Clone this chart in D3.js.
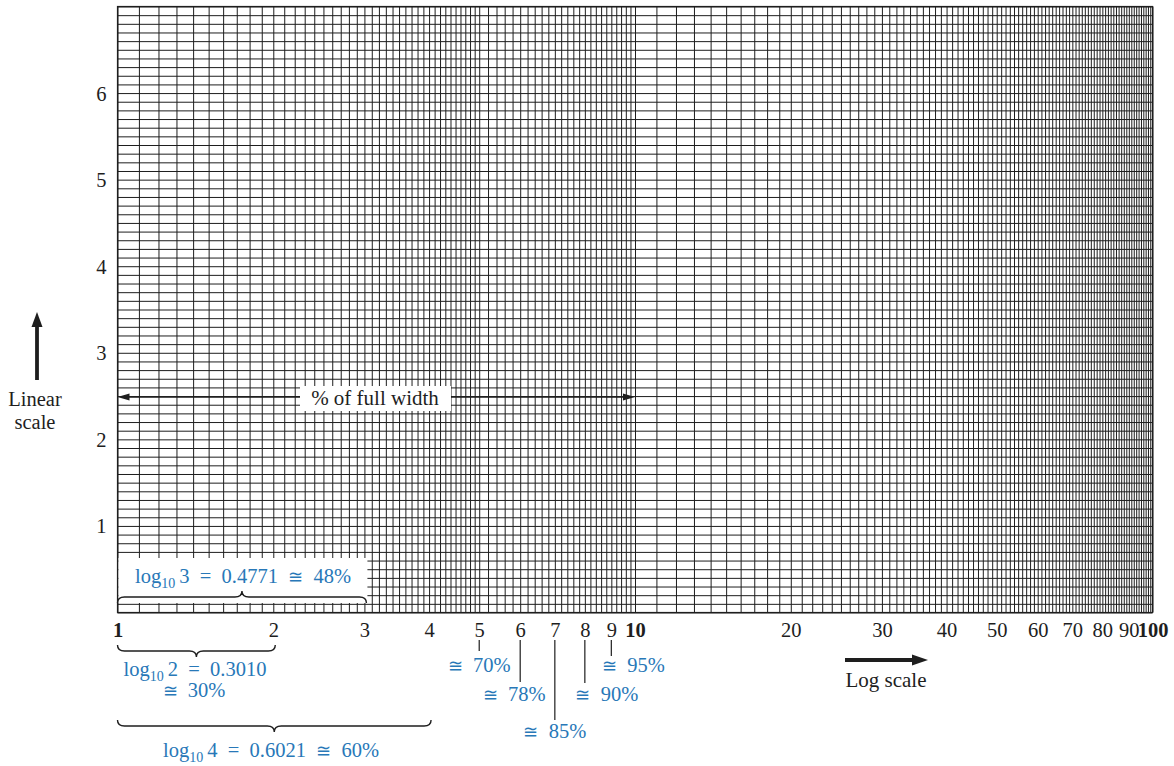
<!DOCTYPE html>
<html><head><meta charset="utf-8">
<script src="https://cdn.jsdelivr.net/npm/d3@7"></script>
<style>
body{margin:0;background:#fff;}
svg{display:block;font-family:"Liberation Serif","DejaVu Serif",serif;}
</style></head><body>
<svg id="chart" width="1174" height="766"></svg>
<script>
// ---------- data ----------
const xDomain = [1, 100];
const yDomain = [0, 7];
const xTickLabels = [1,2,3,4,5,6,7,8,9,10,20,30,40,50,60,70,80,90,100];
const boldXTicks = [1,10,100];
const yTickLabels = [1,2,3,4,5,6];
const gridBands = [[1,5,0.1],[5,10,0.2],[10,100,1]];
const yGridStep = 0.1;
const leaderValues = [5,6,7,8,9];
const leaderPercents = ["70%","78%","85%","90%","95%"];
const braceRanges = [[1,3],[1,2],[1,4]];
const braceArgs = [3,2,4];
const braceLogs = ["0.4771","0.3010","0.6021"];
const bracePercents = ["48%","30%","60%"];

// ---------- setup ----------
const svg = d3.select("#chart");
const x = d3.scaleLog().domain(xDomain).range([117.5, 1152.5]);
const y = d3.scaleLinear().domain(yDomain).range([612.5, 6.5]);
const INK = "#1e1e1e", BLUE = "#2878b8";
const gridH = y(yDomain[0]) - y(yDomain[1]);
const gridW = x(xDomain[1]) - x(xDomain[0]);

// grid values
const vSet = new Map();
gridBands.forEach(([a,b,s]) => {
  d3.range(Math.round(a/s), Math.round(b/s)+1).forEach(i => {
    const v = +(i*s).toFixed(4);
    vSet.set(v.toFixed(4), v);
  });
});
const vGrid = Array.from(vSet.values()).sort((a,b)=>a-b);
const hGrid = d3.range(Math.round(yDomain[0]/yGridStep), Math.round(yDomain[1]/yGridStep)+1).map(i => +(i*yGridStep).toFixed(4));

// vertical grid
const gv = svg.append("g").attr("transform", `translate(0,${y(0)})`)
  .call(d3.axisBottom(x).tickValues(vGrid).tickSize(-gridH).tickFormat(""));
gv.select(".domain").remove();
gv.selectAll("line").attr("stroke", INK).attr("stroke-width", 1);

// horizontal grid
const gh = svg.append("g").attr("transform", `translate(${x(1)},0)`)
  .call(d3.axisLeft(y).tickValues(hGrid).tickSize(-gridW).tickFormat(""));
gh.select(".domain").remove();
gh.selectAll("line").attr("stroke", INK).attr("stroke-width", 1);

// frame
svg.append("rect").attr("x", x(1)).attr("y", y(7)).attr("width", gridW).attr("height", gridH)
  .attr("fill", "none").attr("stroke", INK).attr("stroke-width", 1.2);

// x labels
const gxl = svg.append("g").attr("transform", `translate(0,${y(0)})`)
  .call(d3.axisBottom(x).tickValues(xTickLabels).tickSize(0).tickFormat(d3.format("d")));
gxl.select(".domain").remove();
gxl.attr("font-family", null).attr("font-size", null);
gxl.selectAll("text").attr("y", 24).attr("dy", 0).attr("fill", INK)
  .style("font-size", "20.5px")
  .style("font-weight", d => boldXTicks.includes(d) ? "bold" : "normal");

// y labels
const gyl = svg.append("g").attr("transform", `translate(${x(1)},0)`)
  .call(d3.axisLeft(y).tickValues(yTickLabels).tickSize(0).tickPadding(11).tickFormat(d3.format("d")));
gyl.select(".domain").remove();
gyl.attr("font-family", null).attr("font-size", null);
gyl.selectAll("text").attr("fill", INK).attr("dy", "0.34em").style("font-size", "20.5px");

// ---------- % of full width arrow ----------
const arrY = 397;
svg.append("line").attr("x1", x(1)+8).attr("x2", x(10)-8).attr("y1", arrY).attr("y2", arrY)
  .attr("stroke", INK).attr("stroke-width", 1.3);
svg.append("path").attr("d", `M${x(1)},${arrY} L${x(1)+12},${arrY-3.5} L${x(1)+12},${arrY+3.5} Z`).attr("fill", INK);
svg.append("path").attr("d", `M${x(10)},${arrY} L${x(10)-12},${arrY-3.5} L${x(10)-12},${arrY+3.5} Z`).attr("fill", INK);
svg.append("rect").attr("x", 300).attr("y", 386).attr("width", 151).attr("height", 25).attr("fill", "#fff");
svg.append("text").attr("x", 375).attr("y", 405).attr("text-anchor", "middle")
  .attr("fill", INK).style("font-size", "21px").text("% of full width");

// ---------- Linear scale arrow ----------
svg.append("line").attr("x1", 37).attr("x2", 37).attr("y1", 380).attr("y2", 322)
  .attr("stroke", INK).attr("stroke-width", 3.8);
svg.append("path").attr("d", "M37,312 L31.5,327 L42.5,327 Z").attr("fill", INK);
svg.append("text").attr("x", 35).attr("y", 406).attr("text-anchor", "middle").attr("fill", INK)
  .style("font-size", "20.5px").text("Linear");
svg.append("text").attr("x", 35).attr("y", 429).attr("text-anchor", "middle").attr("fill", INK)
  .style("font-size", "20.5px").text("scale");

// ---------- Log scale arrow ----------
svg.append("line").attr("x1", 845).attr("x2", 914).attr("y1", 660).attr("y2", 660)
  .attr("stroke", INK).attr("stroke-width", 4.2);
svg.append("path").attr("d", "M928,660 L912,654.5 L912,665.5 Z").attr("fill", INK);
svg.append("text").attr("x", 886).attr("y", 687).attr("text-anchor", "middle").attr("fill", INK)
  .style("font-size", "21px").text("Log scale");

// ---------- braces ----------
function bracePath(x1, x2, y0, dir) {
  const yb = y0 + dir*6, yt = y0 + dir*12, xm = (x1+x2)/2, r = 7;
  return `M${x1},${y0} Q${x1},${yb} ${x1+r},${yb} L${xm-r},${yb} Q${xm},${yb} ${xm},${yt} ` +
         `Q${xm},${yb} ${xm+r},${yb} L${x2-r},${yb} Q${x2},${yb} ${x2},${y0}`;
}
function approx(t, pct, sz) {
  t.append("tspan").style("font-size", sz).text("≅");
  t.append("tspan").text("\u2002" + pct);
}
function logText(g, cx, base, i, withPct) {
  const t = g.append("text").attr("x", cx).attr("y", base).attr("text-anchor", "middle")
    .attr("fill", BLUE).style("font-size", "20.5px").style("white-space", "pre");
  t.append("tspan").text("log");
  t.append("tspan").attr("dy", 5).style("font-size", "14px").text("10");
  t.append("tspan").attr("dy", -5).text("\u2009" + braceArgs[i] + "\u2002=\u2002" + braceLogs[i] + (withPct ? "\u2002" : ""));
  if (withPct) approx(t, bracePercents[i], "18px");
  return t;
}
// brace 0 (above axis, inside grid)
const b0 = braceRanges[0];
svg.append("rect").attr("x", x(b0[0])+1).attr("y", 558).attr("width", x(b0[1]) - x(b0[0]) + 2).attr("height", 45)
  .attr("fill", "#fff");
svg.append("path").attr("d", bracePath(x(b0[0]), x(b0[1])+2, 603, -1))
  .attr("fill", "none").attr("stroke", INK).attr("stroke-width", 1.4);
logText(svg, 243, 583, 0, true);

// brace 1 (1..2 below)
const b1 = braceRanges[1];
svg.append("path").attr("d", bracePath(x(b1[0]), x(b1[1])+2, 645, 1))
  .attr("fill", "none").attr("stroke", INK).attr("stroke-width", 1.4);
logText(svg, 195, 676, 1, false);
const t30 = svg.append("text").attr("x", 194).attr("y", 697).attr("text-anchor", "middle").attr("fill", BLUE)
  .style("font-size", "20.5px").style("white-space", "pre");
approx(t30, bracePercents[1], "18px");

// brace 2 (1..4 below)
const b2 = braceRanges[2];
svg.append("path").attr("d", bracePath(x(b2[0]), x(b2[1])+2, 720, 1))
  .attr("fill", "none").attr("stroke", INK).attr("stroke-width", 1.4);
logText(svg, 271, 757, 2, true);

// ---------- leaders ----------
const leaderLayout = [
  {y2: 651, dx: 0,  base: 672},
  {y2: 682, dx: -6, base: 701},
  {y2: 720, dx: 0,  base: 738},
  {y2: 683, dx: 22, base: 701},
  {y2: 656, dx: 22, base: 672}
];
leaderValues.forEach((v, i) => {
  const L = leaderLayout[i];
  svg.append("line").attr("x1", x(v)).attr("x2", x(v)).attr("y1", 640).attr("y2", L.y2)
    .attr("stroke", INK).attr("stroke-width", 1.2);
  const t = svg.append("text").attr("x", x(v) + L.dx).attr("y", L.base).attr("text-anchor", "middle")
    .attr("fill", BLUE).style("font-size", "20.5px").style("white-space", "pre");
  approx(t, leaderPercents[i], "18px");
});
</script>
</body></html>
